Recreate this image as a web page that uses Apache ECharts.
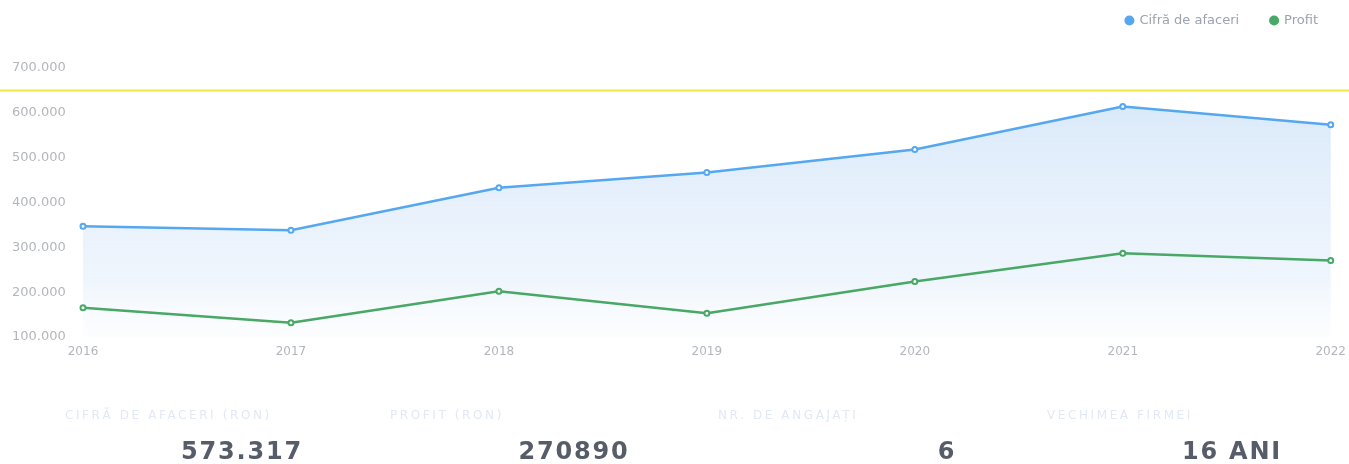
<!DOCTYPE html>
<html style="height: 100%;">
  <head>
    <meta charset="utf-8" />
    <style>
      .stat-label {
        position: absolute;
        top: 408px;
        font: 12px "DejaVu Sans", sans-serif;
        letter-spacing: 2.6px;
        color: #e1e8f6;
        line-height: 14px;
        white-space: nowrap;
      }
      .stat-value {
        position: absolute;
        top: 439px;
        font: bold 24px "DejaVu Sans", sans-serif;
        letter-spacing: 1.8px;
        color: #565d69;
        line-height: 24px;
        white-space: nowrap;
        transform: translateX(-50%);
      }
    </style>
  </head>
  <body style="height: 100%; margin: 0; background: #fff;">
    <div style="position: relative; width: 1349px; height: 464px;">
      <div id="container" style="width: 1349px; height: 464px;"></div>
      <div id="stats"></div>
    </div>
    <script src="https://cdn.jsdelivr.net/npm/echarts@6/dist/echarts.min.js"></script>
    <script type="text/javascript">
      var years = ["2016", "2017", "2018", "2019", "2020", "2021", "2022"];
      var cifra = [347000, 338000, 433000, 467000, 518000, 614000, 573317];
      var profit = [165000, 132000, 202000, 153000, 224000, 287000, 270890];
      var statLabels = ["CIFRĂ DE AFACERI (RON)", "PROFIT (RON)", "NR. DE ANGAJAȚI", "VECHIMEA FIRMEI"];
      var statValues = ["573.317", "270890", "6", "16 ANI"];
      var limit = 650000;

      // stat blocks under the chart
      var labelX = [65, 390, 718, 1047];
      var valueX = [242, 574, 947, 1232];
      var stats = document.getElementById("stats");
      statLabels.forEach(function (t, i) {
        var l = document.createElement("div");
        l.className = "stat-label";
        l.style.left = labelX[i] + "px";
        l.textContent = t;
        stats.appendChild(l);
        var v = document.createElement("div");
        v.className = "stat-value";
        v.style.left = valueX[i] + "px";
        v.textContent = statValues[i];
        stats.appendChild(v);
      });

      var dom = document.getElementById("container");
      var myChart = echarts.init(dom);

      var fmt = function (v) {
        return String(v).replace(/(\d)(?=(\d{3})+$)/g, "$1.");
      };

      var option = {
        animation: false,
        legend: {
          right: 26,
          top: 9,
          icon: "circle",
          itemWidth: 10,
          itemHeight: 10,
          itemGap: 30,
          textStyle: { color: "#9aa3b0", fontSize: 13, fontFamily: "DejaVu Sans" },
          data: ["Cifră de afaceri", "Profit"],
        },
        grid: { left: 83, right: 14, top: 68, bottom: 127 },
        xAxis: {
          type: "category",
          data: years,
          boundaryGap: false,
          axisLine: { show: false },
          axisTick: { show: false },
          axisLabel: { color: "#b3b6bb", fontSize: 12, fontFamily: "DejaVu Sans", margin: 9 },
        },
        yAxis: {
          type: "value",
          min: 100000,
          max: 700000,
          interval: 100000,
          splitLine: { show: false },
          axisLine: { show: false },
          axisTick: { show: false },
          axisLabel: {
            color: "#b3b6bb",
            fontSize: 13,
            fontFamily: "DejaVu Sans",
            formatter: fmt,
            align: "left",
            margin: 71,
          },
        },
        series: [
          {
            name: "Cifră de afaceri",
            type: "line",
            data: cifra,
            symbol: "emptyCircle",
            symbolSize: 5,
            itemStyle: { color: "#55a8f0" },
            lineStyle: { width: 2.5, color: "#55a8f0" },
            areaStyle: {
              color: new echarts.graphic.LinearGradient(0, 0, 0, 1, [
                { offset: 0, color: "rgba(160,200,242,0.55)" },
                { offset: 0.75, color: "rgba(185,212,245,0.32)" },
                { offset: 1, color: "rgba(235,242,252,0.2)" },
              ]),
            },
          },
          {
            name: "Profit",
            type: "line",
            data: profit,
            symbol: "emptyCircle",
            symbolSize: 5,
            itemStyle: { color: "#48a865" },
            lineStyle: { width: 2.5, color: "#48a865" },
          },
        ],
      };

      myChart.setOption(option);

      // yellow limit line across the whole width
      var ly = myChart.convertToPixel({ yAxisIndex: 0 }, limit);
      myChart.setOption({
        graphic: [
          {
            type: "line",
            shape: { x1: 0, y1: ly, x2: 1349, y2: ly },
            style: { stroke: "#f2e640", lineWidth: 2 },
          },
        ],
      });
    </script>
  </body>
</html>
